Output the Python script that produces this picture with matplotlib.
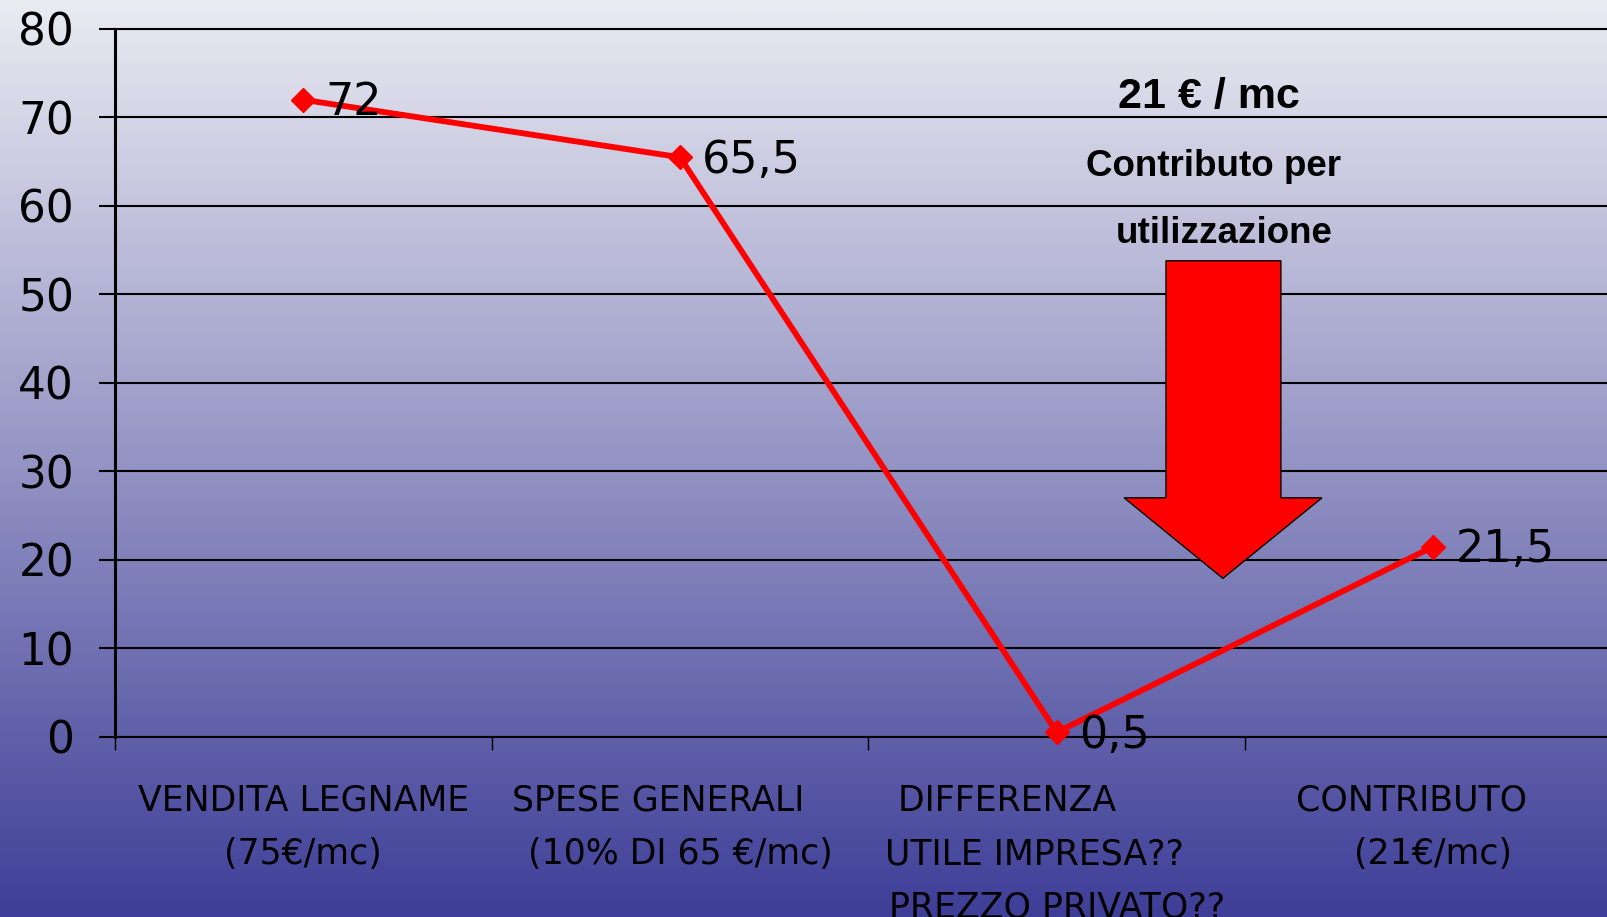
import numpy as np
import matplotlib
matplotlib.use("Agg")
import matplotlib.pyplot as plt
from matplotlib.patches import Polygon

# ---------------- data ----------------
categories = [
    "VENDITA LEGNAME\n(75€/mc)",
    "SPESE GENERALI    \n(10% DI 65 €/mc)",
    "DIFFERENZA         \nUTILE IMPRESA??    \nPREZZO PRIVATO??",
    "CONTRIBUTO    \n(21€/mc)",
]
values = [72, 65.5, 0.5, 21.5]
value_labels = ["72", "65,5", "0,5", "21,5"]
y_ticks = [0, 10, 20, 30, 40, 50, 60, 70, 80]
note_lines = ["21 € / mc", "Contributo per", "utilizzazione"]

# ---------------- figure ----------------
W, H = 1607, 917
fig = plt.figure(figsize=(W / 100, H / 100), dpi=100)

# gradient background
bg = fig.add_axes([0, 0, 1, 1], zorder=0)
top = np.array([235, 235, 242]) / 255
bot = np.array([62, 62, 152]) / 255
t = np.linspace(0, 1, 512)[:, None]
grad = (top[None, :] * (1 - t) + bot[None, :] * t)[:, None, :]
bg.imshow(grad, aspect="auto", extent=[0, 1, 0, 1], interpolation="bilinear")
bg.set_axis_off()

left_px, y0_px, y80_px = 115, 736.7, 29
ax = fig.add_axes([left_px / W, (H - y0_px) / H, 1 - left_px / W, (y0_px - y80_px) / H], zorder=1)
ax.patch.set_alpha(0)

cat_w = 376.7
x = np.arange(len(values))

# grid & spines
ax.set_yticks(y_ticks)
ax.yaxis.grid(True, color="black", linewidth=1.5)
ax.set_axisbelow(True)
ax.spines["right"].set_visible(False)
ax.spines["left"].set_linewidth(2.2)
ax.spines["bottom"].set_linewidth(1.5)
ax.spines["top"].set_linewidth(1.5)
for s in ax.spines.values():
    s.set_color("black")

ax.tick_params(axis="y", length=11.5, width=1.5, pad=18, labelsize=31.5, colors="black")
ax.set_yticklabels([str(v) for v in y_ticks], fontfamily="DejaVu Sans")

# x ticks at category boundaries, labels at centers
ax.set_xticks(np.arange(-0.5, len(values) - 0.4, 1.0))
ax.set_xticklabels([])
ax.tick_params(axis="x", which="major", length=9.5, width=1.0, color="black")
ax.set_xticks(x, minor=True)
ax.set_xticklabels(categories, minor=True, fontsize=25, fontfamily="DejaVu Sans",
                   linespacing=1.71, multialignment="center")
ax.tick_params(axis="x", which="minor", length=0, pad=34)

ax.set_ylim(0, 80)

# line
ax.plot(x, values, color="#ff0000", linewidth=4.2, marker="D", markersize=12.5,
        markerfacecolor="#ff0000", markeredgecolor="#ff0000", zorder=5, clip_on=False)
for xi, v, lab in zip(x, values, value_labels):
    ax.annotate(lab, (xi, v), xytext=(16, -2), textcoords="offset points",
                ha="left", va="center", fontsize=32, fontfamily="DejaVu Sans",
                color="black", zorder=6)

# arrow decoration (data coords)
arrow_pts = [(2.290, 53.8), (2.595, 53.8), (2.595, 27.0), (2.704, 27.0),
             (2.441, 17.9), (2.179, 27.0), (2.290, 27.0)]
ax.add_patch(Polygon(arrow_pts, closed=True, facecolor="#ff0000",
                     edgecolor="black", linewidth=1.0, zorder=4))

# note texts
note_pos = [(2.404, 71.1, 31), (2.415, 63.4, 26.5), (2.444, 55.8, 26.5)]
for txt, (nx, ny, fs) in zip(note_lines, note_pos):
    ax.text(nx, ny, txt, ha="center", va="baseline", fontsize=fs,
            fontfamily="Liberation Sans", fontweight="bold", color="black", zorder=6)

# set x range last (set_xticks would otherwise expand it)
ax.set_xlim(-0.5, -0.5 + (W - left_px) / cat_w)
fig.savefig("out.png", dpi=100)
